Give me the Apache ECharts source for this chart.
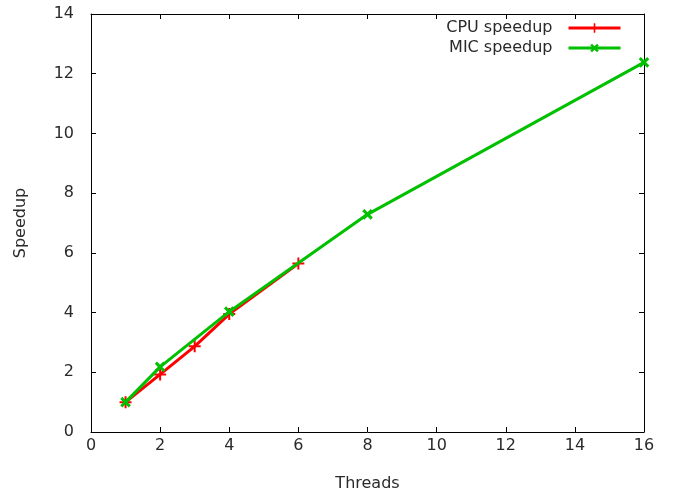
<!DOCTYPE html>
<html lang="en">
<head>
	<meta charset="UTF-8">
	<title></title>
	<script src="https://cdn.jsdelivr.net/npm/echarts@6/dist/echarts.min.js" type="text/javascript"></script>
	<style>
		html, body { margin: 0; padding: 0; background: #fff; }
	</style>
</head>
<body>
	<div id="main" style="width: 673px;height:492px;"></div>
</body>
</html>

<script type="text/javascript">
var cpuThreads = [1, 2, 3, 4, 6];
var cpuSpeedup = [1.0, 1.93, 2.87, 3.95, 5.64];
var micThreads = [1, 2, 4, 8, 16];
var micSpeedup = [1.0, 2.18, 4.03, 7.29, 12.38];
var xTicks = [0, 2, 4, 6, 8, 10, 12, 14, 16];
var yTicks = [0, 2, 4, 6, 8, 10, 12, 14];

function pairs(xs, ys) {
	return xs.map(function (x, i) { return [x, ys[i]]; });
}

var font = 'DejaVu Sans';
var textColor = '#2a2a2a';
var plus = 'path://M-2,-12L2,-12L2,-2L12,-2L12,2L2,2L2,12L-2,12L-2,2L-12,2L-12,-2L-2,-2Z';
var cross = 'path://M-3,-12L3,-12L3,-3L12,-3L12,3L3,3L3,12L-3,12L-3,3L-12,3L-12,-3L-3,-3Z';

var mychart = echarts.init(document.getElementById("main"));

var axisCommon = {
	type: 'value',
	axisLine: { show: true, onZero: false, lineStyle: { color: '#000', width: 1 } },
	axisTick: { show: true, inside: true, length: 5, lineStyle: { color: '#000' } },
	splitLine: { show: false }
};

option = {
	animation: false,
	textStyle: { fontFamily: font },
	grid: { left: 91, right: 29, top: 14, bottom: 60, containLabel: false, outerBoundsMode: 'none' },
	legend: {
		orient: 'vertical',
		right: 51,
		top: 20,
		padding: 0,
		align: 'right',
		itemWidth: 52,
		itemHeight: 12,
		itemGap: 4,
		lineStyle: { width: 3 },
		textStyle: { fontFamily: font, fontSize: 16, color: textColor, padding: [0, 11, 0, 0] },
		data: ['CPU speedup', 'MIC speedup']
	},
	xAxis: [
		Object.assign({}, axisCommon, {
			min: 0, max: 16, interval: 2,
			name: 'Threads',
			nameLocation: 'middle',
			nameGap: 44,
			nameTextStyle: { fontFamily: font, fontSize: 16, color: textColor },
			axisLabel: { fontFamily: font, fontSize: 16, color: textColor, margin: 6,
				formatter: function (v) { return xTicks.indexOf(v) >= 0 ? String(v) : ''; } }
		}),
		Object.assign({}, axisCommon, {
			position: 'top', min: 0, max: 16, interval: 2,
			axisLabel: { show: false }
		})
	],
	yAxis: [
		Object.assign({}, axisCommon, {
			min: 0, max: 14, interval: 2,
			name: 'Speedup',
			nameLocation: 'middle',
			nameGap: 62,
			nameRotate: 90,
			nameTextStyle: { fontFamily: font, fontSize: 16, color: textColor },
			axisLabel: { fontFamily: font, fontSize: 16, color: textColor, margin: 17,
				formatter: function (v) { return yTicks.indexOf(v) >= 0 ? String(v) : ''; } }
		}),
		Object.assign({}, axisCommon, {
			position: 'right', min: 0, max: 14, interval: 2,
			axisLabel: { show: false }
		})
	],
	series: [
		{
			name: 'CPU speedup',
			type: 'line',
			data: pairs(cpuThreads, cpuSpeedup),
			symbol: plus,
			symbolSize: 12,
			showAllSymbol: true,
			itemStyle: { color: '#ff0000' },
			lineStyle: { color: '#ff0000', width: 3 },
			z: 2
		},
		{
			name: 'MIC speedup',
			type: 'line',
			data: pairs(micThreads, micSpeedup),
			symbol: cross,
			symbolRotate: 45,
			symbolSize: 12,
			showAllSymbol: true,
			itemStyle: { color: '#00c000' },
			lineStyle: { color: '#00c000', width: 3 },
			z: 3
		}
	]
};
mychart.setOption(option);
</script>
